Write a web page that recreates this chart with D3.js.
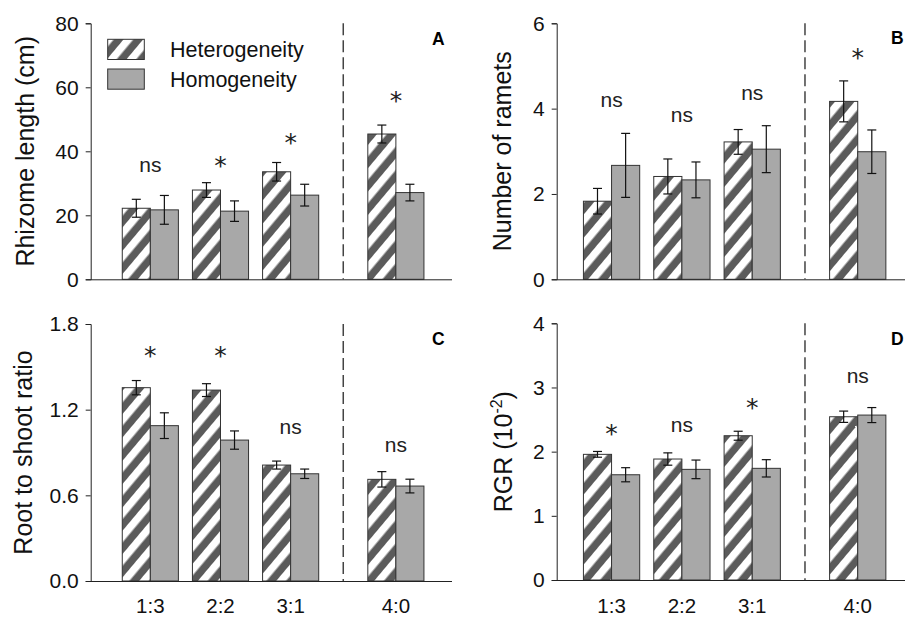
<!DOCTYPE html>
<html><head><meta charset="utf-8">
<script src="https://cdn.jsdelivr.net/npm/d3@7"></script>
<style>body{margin:0;background:#fff} svg{display:block}</style>
</head><body><svg id="c" width="905" height="617"></svg>
<script>
const FONT = '"Liberation Sans", Arial, Helvetica, sans-serif';
const categories = ["1:3", "2:2", "3:1", "4:0"];
const seriesNames = ["Heterogeneity", "Homogeneity"];

// Panel A: Rhizome length (cm)
const rhizomeHet = [22.2, 27.9, 33.6, 45.4];
const rhizomeHetErr = [2.8, 2.3, 2.9, 2.8];
const rhizomeHom = [21.7, 21.3, 26.3, 27.1];
const rhizomeHomErr = [4.5, 3.2, 3.4, 2.6];
const rhizomeSig = ["ns", "*", "*", "*"];
const rhizomeSigAt = [35.2, 37.3, 44.6, 57.6];
const rhizomeTicks = [0, 20, 40, 60, 80];

// Panel B: Number of ramets
const rametHet = [1.83, 2.41, 3.22, 4.17];
const rametHetErr = [0.30, 0.41, 0.29, 0.48];
const rametHom = [2.67, 2.33, 3.05, 2.99];
const rametHomErr = [0.75, 0.42, 0.55, 0.51];
const rametSig = ["ns", "ns", "ns", "*"];
const rametSigAt = [4.16, 3.81, 4.34, 5.33];
const rametTicks = [0, 2, 4, 6];

// Panel C: Root to shoot ratio
const rsHet = [1.354, 1.337, 0.812, 0.712];
const rsHetErr = [0.05, 0.045, 0.028, 0.054];
const rsHom = [1.088, 0.987, 0.751, 0.665];
const rsHomErr = [0.09, 0.064, 0.033, 0.048];
const rsSig = ["*", "*", "ns", "ns"];
const rsSigAt = [1.618, 1.618, 1.069, 0.940];
const rsTicks = [0, 0.6, 1.2, 1.8];

// Panel D: RGR (10^-2)
const rgrHet = [1.958, 1.885, 2.248, 2.544];
const rgrHetErr = [0.045, 0.096, 0.07, 0.088];
const rgrHom = [1.64, 1.724, 1.74, 2.57];
const rgrHomErr = [0.11, 0.145, 0.135, 0.117];
const rgrSig = ["*", "ns", "*", "ns"];
const rgrSigAt = [2.372, 2.399, 2.777, 3.157];
const rgrTicks = [0, 1, 2, 3, 4];

const svg = d3.select("#c");
const defs = svg.append("defs");
const pat = defs.append("pattern").attr("id", "hatch")
  .attr("patternUnits", "userSpaceOnUse").attr("width", 15).attr("height", 15)
  .attr("patternTransform", "rotate(40)");
pat.append("rect").attr("width", 15).attr("height", 15).attr("fill", "#5b5b5b");
pat.append("rect").attr("width", 7.5).attr("height", 15).attr("fill", "#ffffff");

const HOM_FILL = "#a8a8a8";
const LINE = "#222";
const slot = i => (i < 3 ? i : i + 0.5);

const panels = [
  { het: rhizomeHet, hetE: rhizomeHetErr, hom: rhizomeHom, homE: rhizomeHomErr, sig: rhizomeSig, sigAt: rhizomeSigAt,
    ticks: rhizomeTicks, fmt: d3.format("d"), title: "Rhizome length (cm)", letter: "A",
    x0: 90.7, x1: 452, xd: [-0.85, 4.3], top: 23.3, bottom: 279.3, titleX: 33.5, letterX: 432, letterY: 44.5, xlabels: false, legend: true },
  { het: rametHet, hetE: rametHetErr, hom: rametHom, homE: rametHomErr, sig: rametSig, sigAt: rametSigAt,
    ticks: rametTicks, fmt: d3.format("d"), title: "Number of ramets", letter: "B",
    x0: 556.7, x1: 914, xd: [-0.78, 4.3], top: 23.3, bottom: 279.3, titleX: 510.5, letterX: 891, letterY: 43.5, xlabels: false, legend: false },
  { het: rsHet, hetE: rsHetErr, hom: rsHom, homE: rsHomErr, sig: rsSig, sigAt: rsSigAt,
    ticks: rsTicks, fmt: d3.format(".1f"), title: "Root to shoot ratio", letter: "C",
    x0: 90.7, x1: 452, xd: [-0.85, 4.3], top: 324, bottom: 581, titleX: 32, letterX: 432, letterY: 344.5, xlabels: true, legend: false },
  { het: rgrHet, hetE: rgrHetErr, hom: rgrHom, homE: rgrHomErr, sig: rgrSig, sigAt: rgrSigAt,
    ticks: rgrTicks, fmt: d3.format("d"), title: null, letter: "D",
    x0: 556.7, x1: 914, xd: [-0.78, 4.3], top: 323.3, bottom: 580, titleX: 511.5, letterX: 891, letterY: 345, xlabels: true, legend: false }
];

panels.forEach(p => {
  const x = d3.scaleLinear().domain(p.xd).range([p.x0, p.x1]);
  const y = d3.scaleLinear().domain([0, d3.max(p.ticks)]).range([p.bottom, p.top]);
  const bw = (x(1) - x(0)) * 0.4;
  const g = svg.append("g");

  // bars
  categories.forEach((c, i) => {
    const cx = x(slot(i));
    g.append("rect").attr("x", cx - bw).attr("width", bw)
      .attr("y", y(p.het[i])).attr("height", y(0) - y(p.het[i]))
      .attr("fill", "url(#hatch)").attr("stroke", "#333").attr("stroke-width", 1);
    g.append("rect").attr("x", cx).attr("width", bw)
      .attr("y", y(p.hom[i])).attr("height", y(0) - y(p.hom[i]))
      .attr("fill", HOM_FILL).attr("stroke", "#333").attr("stroke-width", 1);
    [[cx - bw / 2, p.het[i], p.hetE[i]], [cx + bw / 2, p.hom[i], p.homE[i]]].forEach(([ex, v, e]) => {
      const eg = g.append("g").attr("stroke", "#111").attr("stroke-width", 1.2);
      eg.append("line").attr("x1", ex).attr("x2", ex).attr("y1", y(v - e)).attr("y2", y(v + e));
      eg.append("line").attr("x1", ex - 4.5).attr("x2", ex + 4.5).attr("y1", y(v - e)).attr("y2", y(v - e));
      eg.append("line").attr("x1", ex - 4.5).attr("x2", ex + 4.5).attr("y1", y(v + e)).attr("y2", y(v + e));
    });
    // significance
    const s = p.sig[i];
    const isStar = s === "*";
    const st = g.append("text").attr("x", cx).attr("text-anchor", "middle").attr("fill", "#222").text(s);
    if (isStar) {
      st.attr("y", y(p.sigAt[i]) + 14).attr("font-family", '"DejaVu Sans", sans-serif')
        .attr("font-size", 25);
    } else {
      st.attr("y", y(p.sigAt[i]) + 5.5).attr("font-family", FONT).attr("font-size", 21);
    }
  });

  // dashed separator
  g.append("line").attr("x1", x(2.75)).attr("x2", x(2.75)).attr("y1", p.top).attr("y2", p.bottom)
    .attr("stroke", "#444").attr("stroke-width", 1.5).attr("stroke-dasharray", "12,5");

  // axes
  const ax = g.append("g").attr("transform", `translate(${p.x0},0)`)
    .call(d3.axisLeft(y).tickValues(p.ticks).tickFormat(p.fmt).tickSizeOuter(0).tickSize(5).tickPadding(7));
  ax.attr("font-family", FONT).attr("font-size", 21);
  ax.select(".domain").attr("stroke", LINE);
  ax.selectAll(".tick line").attr("stroke", LINE);
  ax.selectAll(".tick text").attr("fill", "#111");
  g.append("line").attr("x1", p.x0).attr("x2", p.x1).attr("y1", y(0) + 0.5).attr("y2", y(0) + 0.5)
    .attr("stroke", LINE).attr("stroke-width", 1);

  if (p.xlabels) {
    g.selectAll(".xl").data(categories).join("text")
      .attr("x", (d, i) => x(slot(i))).attr("y", 612.5)
      .attr("text-anchor", "middle").attr("font-family", FONT).attr("font-size", 20.5)
      .attr("fill", "#111").text(d => d);
  }

  // y title
  const cy = (p.top + p.bottom) / 2;
  const t = g.append("text").attr("transform", `translate(${p.titleX},${cy}) rotate(-90)`)
    .attr("text-anchor", "middle").attr("font-family", FONT).attr("font-size", 25).attr("fill", "#111");
  if (p.title) t.text(p.title);
  else {
    t.append("tspan").text("RGR (10");
    t.append("tspan").attr("font-size", 16).attr("dy", -10).text("-2");
    t.append("tspan").attr("dy", 10).text(")");
  }

  // panel letter
  g.append("text").attr("x", p.letterX).attr("y", p.letterY).attr("font-family", FONT)
    .attr("font-weight", "bold").attr("font-size", 17.5).attr("fill", "#000").text(p.letter);

  if (p.legend) {
    const lg = g.append("g");
    const fills = ["url(#hatch)", HOM_FILL];
    const ys = [39.3, 69];
    seriesNames.forEach((n, k) => {
      lg.append("rect").attr("x", 107.7).attr("y", ys[k]).attr("width", 36.6).attr("height", 20.2)
        .attr("fill", fills[k]).attr("stroke", "#333");
      lg.append("text").attr("x", 170).attr("y", ys[k] + 18).attr("font-family", FONT)
        .attr("font-size", 21.5).attr("fill", "#111").text(n);
    });
  }
});
</script></body></html>
